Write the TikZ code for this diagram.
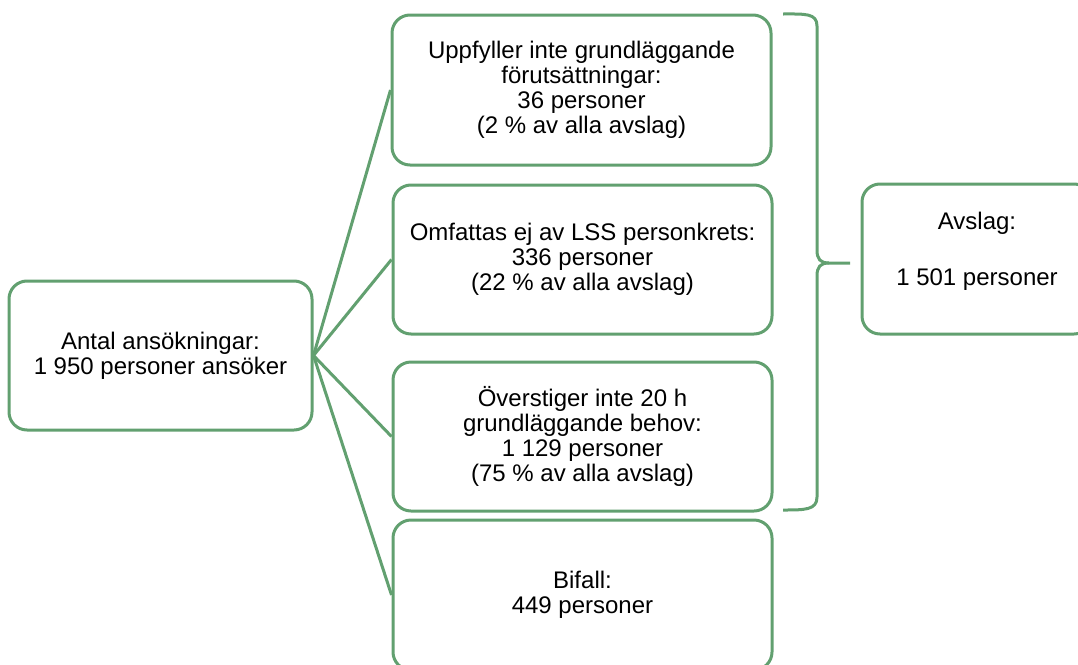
\documentclass[tikz,border=0pt]{standalone}
\usepackage{fontspec}
\setmainfont{Liberation Sans}
\definecolor{grn}{RGB}{98,160,112}
\begin{document}
\begin{tikzpicture}[x=1pt,y=-1pt,
  box/.style={draw=grn, line width=3pt, rounded corners=18pt, fill=white, align=center, inner sep=0pt, font=\fontsize{24}{25}\selectfont},
  link/.style={draw=grn, line width=3pt}]
\useasboundingbox (0,0) rectangle (1078,664);
\clip (0,0) rectangle (1078,664);
\node[box, minimum width=303pt, minimum height=149pt] (L) at (160.5,355.5) {Antal ansökningar:\\1 950 personer ansöker};
\node[box, minimum width=379pt, minimum height=150pt] (b1) at (581.5,90) {Uppfyller inte grundläggande\\förutsättningar:\\36 personer\\(2 \% av alla avslag)};
\node[box, minimum width=379pt, minimum height=149pt] (b2) at (582.5,259.5) {Omfattas ej av LSS personkrets:\\336 personer\\(22 \% av alla avslag)};
\node[box, minimum width=379pt, minimum height=149pt] (b3) at (582.5,436.5) {Överstiger inte 20 h\\grundläggande behov:\\1 129 personer\\(75 \% av alla avslag)};
\node[box, minimum width=379pt, minimum height=150pt] (b4) at (582.5,595) {Bifall:\\449 personer};
\node[box, minimum width=230pt, minimum height=150pt] (av) at (977,259) {\raisebox{0pt}{Avslag:}\\[31pt]1 501 personer\\[-4pt]\mbox{}};
\foreach \t in {b1,b2,b3,b4} \draw[link] (L.east) -- (\t.west);
\coordinate (bt) at (783,14);
\coordinate (bb) at (783,510);
\coordinate (tip) at (850,263);
\draw[link, line join=round] (bt) .. controls (805,14) and (817,13) .. (817,26) -- (817,250)
  .. controls (817,259) and (820,263) .. (829,263) -- (tip);
\draw[link, line join=round] (829,263) .. controls (820,263) and (817,267) .. (817,276) -- (817,497)
  .. controls (817,510) and (805,510) .. (bb);
\end{tikzpicture}
\end{document}
